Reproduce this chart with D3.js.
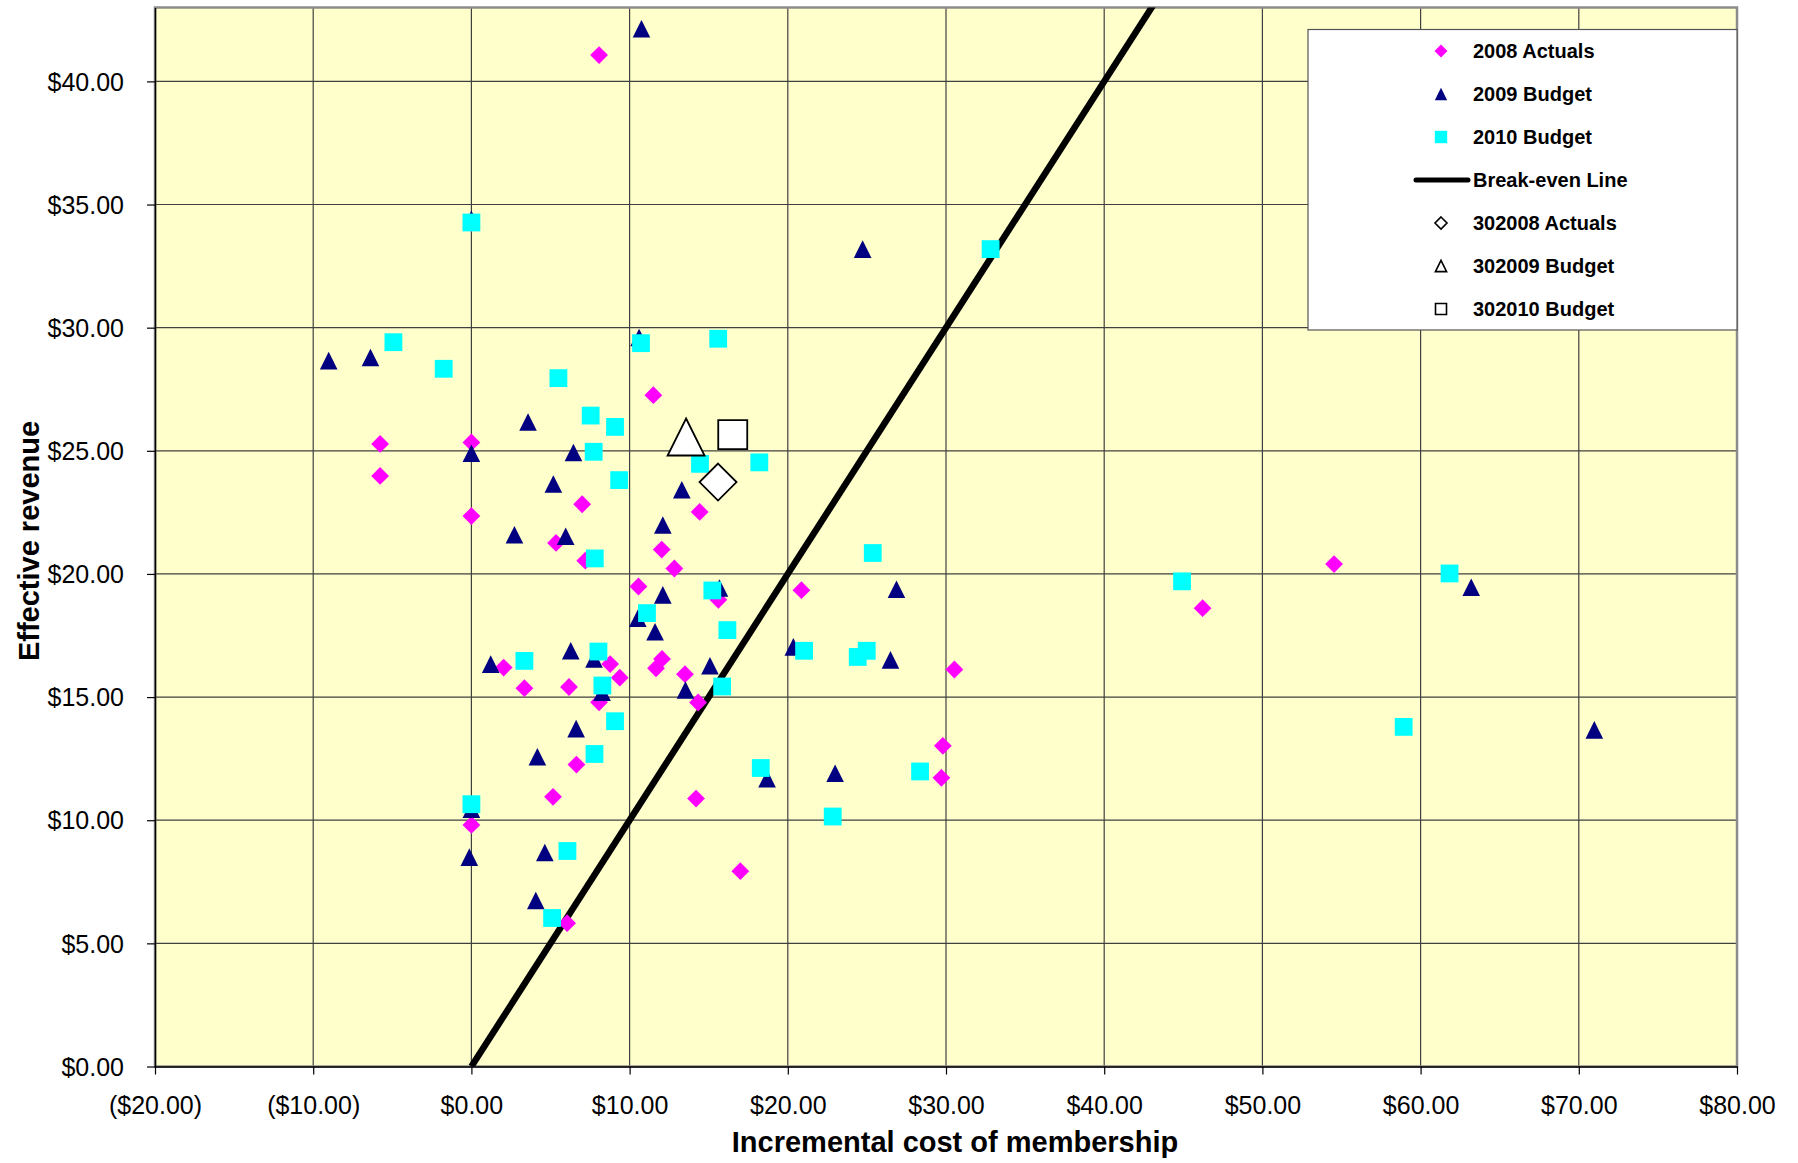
<!DOCTYPE html>
<html>
<head>
<meta charset="utf-8">
<script src="https://cdnjs.cloudflare.com/ajax/libs/d3/7.8.5/d3.min.js"></script>
<style>
  body { margin: 0; background: #ffffff; }
  text { font-family: "Liberation Sans", Arial, sans-serif; }
</style>
</head>
<body>
<div id="chart"></div>
<script>
// data
var actuals2008 = [
    [8.07, 41.07], [0, 34.25], [11.5, 27.26], [-5.77, 25.28], [0, 25.34], [-5.77, 23.98],
    [7.0, 22.83], [0, 22.35], [5.35, 21.26], [7.2, 20.54], [10.56, 19.49], [14.43, 22.52],
    [12.03, 20.99], [12.83, 20.22], [20.86, 19.34], [15.61, 18.95], [2.04, 16.2], [8.77, 16.34],
    [9.38, 15.79], [3.35, 15.36], [6.17, 15.41], [12.05, 16.55], [11.67, 16.17], [13.5, 15.93],
    [30.53, 16.12], [14.33, 14.78], [8.07, 14.79], [6.64, 12.26], [5.16, 10.95], [0, 9.81],
    [6.05, 5.82], [14.2, 10.88], [29.8, 13.02], [29.71, 11.72], [17.0, 7.93], [46.22, 18.61],
    [54.53, 20.4]
];
var budget2009 = [
    [10.75, 42.14], [0, 34.4], [10.6, 29.6], [24.73, 33.19], [-9.02, 28.66], [-6.38, 28.79],
    [3.58, 26.17], [0, 24.9], [6.45, 24.93], [5.18, 23.65], [13.3, 23.42], [2.72, 21.59],
    [5.96, 21.53], [12.1, 21.99], [10.52, 18.2], [11.61, 17.65], [12.1, 19.15], [15.68, 19.43],
    [26.87, 19.38], [6.28, 16.88], [7.75, 16.55], [1.22, 16.34], [8.26, 15.2], [20.35, 17.04],
    [26.49, 16.51], [15.08, 16.27], [13.53, 15.29], [6.62, 13.72], [4.17, 12.58], [0, 10.45],
    [-0.13, 8.5], [4.64, 8.69], [4.07, 6.74], [18.69, 11.69], [22.99, 11.91], [63.2, 19.46],
    [70.98, 13.67]
];
var budget2010 = [
    [0, 34.27], [-4.93, 29.41], [10.72, 29.37], [15.6, 29.55], [32.82, 33.19], [-1.75, 28.33],
    [5.5, 27.95], [7.54, 26.43], [9.08, 25.97], [7.73, 24.96], [9.34, 23.81], [14.45, 24.47],
    [18.2, 24.53], [7.8, 20.63], [25.37, 20.85], [11.1, 18.41], [15.23, 19.33], [16.18, 17.72],
    [8.03, 16.85], [3.35, 16.47], [8.28, 15.47], [21.03, 16.88], [24.42, 16.63], [24.99, 16.88],
    [15.85, 15.43], [9.08, 14.02], [7.78, 12.69], [0, 10.65], [6.07, 8.75], [5.1, 6.03],
    [18.29, 12.12], [22.84, 10.15], [28.36, 11.98], [44.92, 19.7], [61.83, 20.02], [58.93, 13.79]
];
var breakEven = [[0, 0], [50, 50]];
var club2008 = [[15.59, 23.73]];
var club2009 = [[13.57, 25.56]];
var club2010 = [[16.52, 25.66]];

var xTicks = [-20, -10, 0, 10, 20, 30, 40, 50, 60, 70, 80];
var yTicks = [0, 5, 10, 15, 20, 25, 30, 35, 40];
var legendLabels = ["2008 Actuals", "2009 Budget", "2010 Budget", "Break-even Line",
    "302008 Actuals", "302009 Budget", "302010 Budget"];

var svgWidth = 1798;
var svgHeight = 1163;

var margin = {
    top: 7.5,
    right: 61,
    bottom: 96.5,
    left: 155
};

var width = svgWidth - margin.left - margin.right;
var height = svgHeight - margin.top - margin.bottom;

var svg = d3.select("#chart")
    .append("svg")
    .attr("width", svgWidth)
    .attr("height", svgHeight);

svg.append("rect")
    .attr("width", svgWidth)
    .attr("height", svgHeight)
    .attr("fill", "#ffffff");

var chartGroup = svg.append("g")
    .attr("transform", `translate(${margin.left}, ${margin.top})`);

var xScale = d3.scaleLinear().domain([-20, 80]).range([0, width]);
var yScale = d3.scaleLinear().domain([0, 43]).range([height, 0]);

// money format, negatives in brackets
function money(v) {
    var s = "$" + d3.format(".2f")(Math.abs(v));
    return v < 0 ? "(" + s + ")" : s;
}

// marker shapes
function diamond(s) { return `M0,${-s}L${s},0L0,${s}L${-s},0Z`; }
function triangle(s) { return `M0,${-s}L${s},${s}L${-s},${s}Z`; }
function square(s) { return `M${-s},${-s}H${s}V${s}H${-s}Z`; }

// plot background
chartGroup.append("rect")
    .attr("width", width)
    .attr("height", height)
    .attr("fill", "#ffffcc");

// grid lines
chartGroup.append("g")
    .selectAll("line")
    .data(xTicks.slice(1, -1))
    .enter()
    .append("line")
    .attr("x1", d => xScale(d))
    .attr("x2", d => xScale(d))
    .attr("y1", 0)
    .attr("y2", height)
    .attr("stroke", "#404040")
    .attr("stroke-width", 1.2);

chartGroup.append("g")
    .selectAll("line")
    .data(yTicks.slice(1))
    .enter()
    .append("line")
    .attr("x1", 0)
    .attr("x2", width)
    .attr("y1", d => yScale(d))
    .attr("y2", d => yScale(d))
    .attr("stroke", "#404040")
    .attr("stroke-width", 1.2);

// plot border
chartGroup.append("rect")
    .attr("width", width)
    .attr("height", height)
    .attr("fill", "none")
    .attr("stroke", "#8c8c8c")
    .attr("stroke-width", 2.5);

// axes
var bottomAxis = d3.axisBottom(xScale).tickValues(xTicks).tickFormat(money).tickSize(8).tickSizeOuter(0);
var leftAxis = d3.axisLeft(yScale).tickValues(yTicks).tickFormat(money).tickSize(8).tickSizeOuter(0);

var xAxis = chartGroup.append("g")
    .attr("transform", `translate(0, ${height})`)
    .call(bottomAxis);
xAxis.selectAll("text")
    .attr("y", 30)
    .attr("dy", "0.71em")
    .attr("font-size", "25px")
    .attr("fill", "#000");

var yAxis = chartGroup.append("g")
    .call(leftAxis);
yAxis.selectAll("text")
    .attr("x", -31)
    .attr("dy", "0.35em")
    .attr("font-size", "25px")
    .attr("fill", "#000");

chartGroup.selectAll(".domain").attr("stroke", "#000").attr("stroke-width", 1.5);
chartGroup.selectAll(".tick line").attr("stroke", "#000").attr("stroke-width", 1.2);

// clip for the break-even line
svg.append("clipPath")
    .attr("id", "plotClip")
    .append("rect")
    .attr("width", width)
    .attr("height", height);

var line = d3.line()
    .x(d => xScale(d[0]))
    .y(d => yScale(d[1]));

chartGroup.append("path")
    .datum(breakEven)
    .attr("clip-path", "url(#plotClip)")
    .attr("d", line)
    .attr("fill", "none")
    .attr("stroke", "#000")
    .attr("stroke-width", 6.5);

// data points
function drawSeries(data, shape, size, fill, stroke) {
    chartGroup.append("g")
        .selectAll("path")
        .data(data)
        .enter()
        .append("path")
        .attr("transform", d => `translate(${xScale(d[0])}, ${yScale(d[1])})`)
        .attr("d", shape(size))
        .attr("fill", fill)
        .attr("stroke", stroke)
        .attr("stroke-width", stroke === "none" ? 0 : 1.8);
}

drawSeries(actuals2008, diamond, 8.9, "#ff00ff", "none");
drawSeries(budget2009, triangle, 8.8, "#000080", "none");
drawSeries(budget2010, square, 8.9, "#00ffff", "none");
drawSeries(club2008, diamond, 18.5, "#ffffff", "#000");
drawSeries(club2009, triangle, 18.5, "#ffffff", "#000");
drawSeries(club2010, square, 14.5, "#ffffff", "#000");

// legend
var legendGroup = svg.append("g")
    .attr("transform", "translate(1308, 29.5)");

legendGroup.append("rect")
    .attr("width", 429)
    .attr("height", 300.5)
    .attr("fill", "#ffffff")
    .attr("stroke", "#555")
    .attr("stroke-width", 1.2);

var legendShapes = [
    { shape: diamond, size: 6.5, fill: "#ff00ff", stroke: "none" },
    { shape: triangle, size: 6.2, fill: "#000080", stroke: "none" },
    { shape: square, size: 6.2, fill: "#00ffff", stroke: "none" },
    null,
    { shape: diamond, size: 6, fill: "#ffffff", stroke: "#000" },
    { shape: triangle, size: 5.6, fill: "#ffffff", stroke: "#000" },
    { shape: square, size: 5.5, fill: "#ffffff", stroke: "#000" }
];

legendLabels.forEach(function(label, i) {
    var row = legendGroup.append("g")
        .attr("transform", `translate(0, ${21.5 + i * 43})`);
    var s = legendShapes[i];
    if (s) {
        row.append("path")
            .attr("transform", "translate(133, 0)")
            .attr("d", s.shape(s.size))
            .attr("fill", s.fill)
            .attr("stroke", s.stroke)
            .attr("stroke-width", s.stroke === "none" ? 0 : 1.6);
    } else {
        row.append("line")
            .attr("x1", 108)
            .attr("x2", 160)
            .attr("stroke", "#000")
            .attr("stroke-width", 5)
            .attr("stroke-linecap", "round");
    }
    row.append("text")
        .attr("x", 165)
        .attr("dy", "0.35em")
        .attr("font-size", "20px")
        .attr("font-weight", "bold")
        .text(label);
});

// axis titles
svg.append("text")
    .attr("x", 955)
    .attr("y", 1152)
    .attr("text-anchor", "middle")
    .attr("font-size", "29px")
    .attr("font-weight", "bold")
    .text("Incremental cost of membership");

svg.append("text")
    .attr("transform", "translate(39, 541) rotate(-90)")
    .attr("text-anchor", "middle")
    .attr("font-size", "29px")
    .attr("font-weight", "bold")
    .text("Effective revenue");
</script>
</body>
</html>
